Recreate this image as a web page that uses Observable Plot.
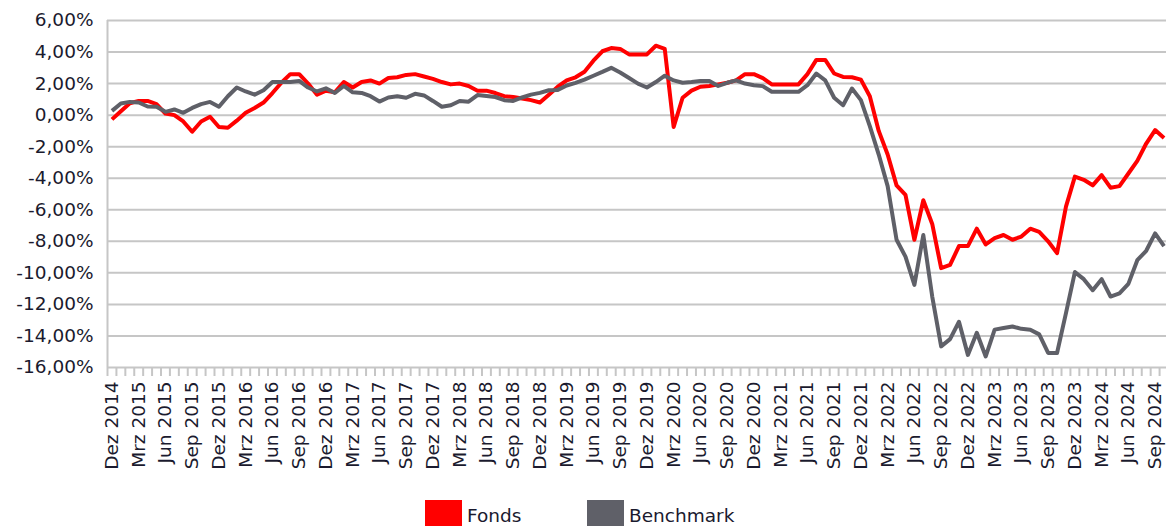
<!DOCTYPE html>
<html>
<head>
<meta charset="utf-8">
<script src="https://cdn.jsdelivr.net/npm/d3@7"></script>
<script src="https://cdn.jsdelivr.net/npm/@observablehq/plot@0.6"></script>
<style>
  body { margin: 0; background: #fff; }
  #wrap { position: relative; width: 1166px; height: 526px; overflow: hidden; font-family: "DejaVu Sans", Verdana, sans-serif; background: #fff; }
  #chart { position: absolute; left: 0; top: 0; }
  .leg { position: absolute; top: 500px; display: flex; align-items: flex-start; font-size: 18.5px; color: #1a1a2e; }
  .leg .sw { width: 37px; height: 30px; margin-right: 5px; }
  .leg span { line-height: 30px; margin-top: 1px; }
</style>
</head>
<body>
<div id="wrap">
  <div id="chart"></div>
  <div class="leg" style="left:425px"><div class="sw" id="sw0"></div><span id="lab0"></span></div>
  <div class="leg" style="left:587px"><div class="sw" id="sw1"></div><span id="lab1"></span></div>
</div>
<script>
// Series names and colours
const seriesNames = ["Fonds", "Benchmark"];
const seriesColors = ["#ff0000", "#5f6068"];

// Monthly values (%), Dez 2014 ... Okt 2024 (119 months)
const fonds = [
  -0.27, 0.25, 0.75, 0.9, 0.9, 0.7, 0.1, 0.0, -0.4, -1.05,
  -0.4, -0.1, -0.75, -0.8, -0.35, 0.15, 0.45, 0.8, 1.4, 2.05,
  2.6, 2.6, 2.0, 1.3, 1.55, 1.45, 2.1, 1.75, 2.1, 2.2,
  2.0, 2.35, 2.4, 2.55, 2.6, 2.45, 2.3, 2.1, 1.95, 2.0,
  1.85, 1.55, 1.55, 1.4, 1.2, 1.15, 1.05, 0.95, 0.8, 1.3,
  1.8, 2.2, 2.4, 2.75, 3.45, 4.05, 4.25, 4.2, 3.85, 3.85,
  3.85, 4.4, 4.2, -0.75, 1.1, 1.55, 1.8, 1.85, 1.95, 2.05,
  2.2, 2.6, 2.6, 2.35, 1.95, 1.95, 1.95, 1.95, 2.6, 3.5,
  3.5, 2.64, 2.42, 2.4, 2.25, 1.2, -1.0, -2.5, -4.45, -5.06,
  -7.9, -5.4, -6.9, -9.7, -9.5, -8.3, -8.3, -7.2, -8.2, -7.8,
  -7.6, -7.9, -7.7, -7.2, -7.4, -8.0, -8.75, -5.8, -3.9, -4.1,
  -4.45, -3.8, -4.6, -4.5, -3.7, -2.9, -1.8, -0.95, -1.45
];
const benchmark = [
  0.27, 0.74, 0.84, 0.8, 0.55, 0.53, 0.21, 0.36, 0.15, 0.46,
  0.7, 0.84, 0.53, 1.2, 1.75, 1.5, 1.3, 1.58, 2.1, 2.1,
  2.1, 2.17, 1.75, 1.5, 1.7, 1.4, 1.85, 1.45, 1.41, 1.2,
  0.86, 1.12, 1.2, 1.1, 1.35, 1.25, 0.9, 0.53, 0.63, 0.9,
  0.85, 1.27, 1.22, 1.15, 0.95, 0.9, 1.12, 1.3, 1.41, 1.58,
  1.6, 1.88, 2.05, 2.25, 2.5, 2.74, 3.0, 2.7, 2.35, 2.0,
  1.75, 2.1, 2.5, 2.2, 2.05, 2.1, 2.17, 2.17, 1.85, 2.05,
  2.2, 2.0, 1.9, 1.84, 1.48, 1.48, 1.48, 1.48, 1.9, 2.64,
  2.2, 1.1, 0.63, 1.69, 0.95, -0.7, -2.5, -4.5, -7.9, -8.97,
  -10.76, -7.6, -11.5, -14.66, -14.2, -13.1, -15.2, -13.8, -15.3, -13.6,
  -13.5, -13.4, -13.55, -13.6, -13.9, -15.08, -15.08, -12.55, -9.95, -10.4,
  -11.1, -10.4, -11.5, -11.3, -10.7, -9.2, -8.6, -7.5, -8.3
];

// Category tick labels (every third month)
const tickLabels = [
  "Dez 2014","Mrz 2015","Jun 2015","Sep 2015","Dez 2015","Mrz 2016","Jun 2016","Sep 2016",
  "Dez 2016","Mrz 2017","Jun 2017","Sep 2017","Dez 2017","Mrz 2018","Jun 2018","Sep 2018",
  "Dez 2018","Mrz 2019","Jun 2019","Sep 2019","Dez 2019","Mrz 2020","Jun 2020","Sep 2020",
  "Dez 2020","Mrz 2021","Jun 2021","Sep 2021","Dez 2021","Mrz 2022","Jun 2022","Sep 2022",
  "Dez 2022","Mrz 2023","Jun 2023","Sep 2023","Dez 2023","Mrz 2024","Jun 2024","Sep 2024"
];

// Y axis ticks
const yTicks = [-16, -14, -12, -10, -8, -6, -4, -2, 0, 2, 4, 6];

const n = fonds.length;
const data = [
  ...fonds.map((v, i) => ({ i, v, series: seriesNames[0] })),
  ...benchmark.map((v, i) => ({ i, v, series: seriesNames[1] }))
];
const fmt = v => v.toFixed(2).replace(".", ",") + "%";

const chart = Plot.plot({
  width: 1166,
  height: 492,
  marginLeft: 107,
  marginRight: 0,
  marginTop: 20,
  marginBottom: 125,
  style: { fontFamily: "\"DejaVu Sans\", Verdana, sans-serif", fontSize: "18.5px", color: "#1a1a2e", background: "#fff" },
  x: { domain: [-0.5, n - 0.5], range: [107, 1168], label: null },
  y: { domain: [-16, 6], label: null },
  color: { domain: seriesNames, range: seriesColors },
  marks: [
    Plot.gridY(yTicks, { stroke: "#c6c6c6", strokeOpacity: 1, strokeWidth: 2 }),
    Plot.ruleX([-0.5], { stroke: "#c6c6c6", strokeWidth: 2 }),
    Plot.axisY(yTicks, { tickSize: 0, tickPadding: 14, tickFormat: fmt, label: null }),
    Plot.axisX(d3.range(-0.5, n, 1), { tickSize: 9, tickFormat: () => "", stroke: "#c6c6c6", strokeWidth: 2, strokeOpacity: 1, label: null }),
    Plot.axisX(d3.range(0, tickLabels.length * 3, 3), { tickSize: 0, tickPadding: 14, tickRotate: -90, tickFormat: i => tickLabels[i / 3], label: null }),
    Plot.line(data, { x: "i", y: "v", z: "series", stroke: "series", strokeWidth: 4, strokeLinejoin: "round", strokeLinecap: "butt" })
  ]
});
document.getElementById("chart").appendChild(chart);

seriesNames.forEach((s, k) => {
  document.getElementById("sw" + k).style.background = seriesColors[k];
  document.getElementById("lab" + k).textContent = s;
});
</script>
</body>
</html>
